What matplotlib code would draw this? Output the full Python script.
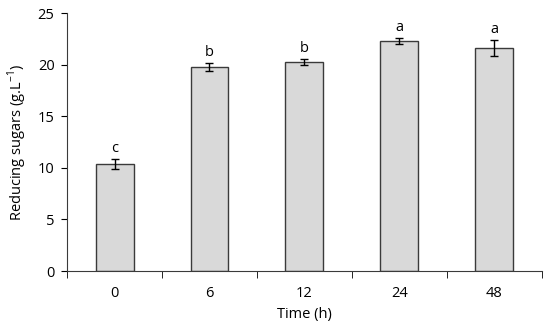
import matplotlib
matplotlib.use("Agg")
import matplotlib.pyplot as plt
import numpy as np

tiempos = ["0", "6", "12", "24", "48"]
azucares = [10.35, 19.8, 20.25, 22.3, 21.6]
errores = [0.5, 0.37, 0.28, 0.27, 0.8]
letras = ["c", "b", "b", "a", "a"]

plt.rcParams['font.family'] = ['Open Sans', 'DejaVu Sans']
plt.rcParams['mathtext.fontset'] = 'custom'
plt.rcParams['mathtext.rm'] = 'Open Sans'

fig = plt.figure(figsize=(5.5, 3.27), dpi=100)
ax = fig.add_axes([0.122, 0.171, 0.863, 0.789])

x = np.arange(len(tiempos))
ax.bar(x, azucares, width=0.4, color="#d9d9d9", edgecolor="#3a3a3a", linewidth=1.0,
       yerr=errores, capsize=3, error_kw=dict(elinewidth=1, ecolor="black", capthick=1))

for xi, v, e, l in zip(x, azucares, errores, letras):
    ax.text(xi, v + e + 0.3, l, ha="center", va="bottom", fontsize=10.5)

ax.set_xlim(-0.5, len(tiempos) - 0.5)
ax.set_ylim(0, 25)
ax.set_yticks([0, 5, 10, 15, 20, 25])
ax.set_xticks(x)
ax.set_xticklabels(tiempos)
ax.set_xticks(np.arange(-0.5, len(tiempos)), minor=True)
ax.tick_params(axis="x", which="major", length=0, labelsize=10.5, pad=11)
ax.tick_params(axis="x", which="minor", length=5, direction="out")
ax.tick_params(axis="y", labelsize=10.5, length=4, direction="out", pad=5)

for s in ["top", "right"]:
    ax.spines[s].set_visible(False)
ax.spines["left"].set_color("#3a3a3a")
ax.spines["bottom"].set_color("#3a3a3a")

ax.set_xlabel("Time (h)", fontsize=10.5, labelpad=4)
ax.set_ylabel("Reducing sugars (g.L$^{-1}$)", fontsize=10.5, labelpad=6)

fig.savefig("out.png", dpi=100)
